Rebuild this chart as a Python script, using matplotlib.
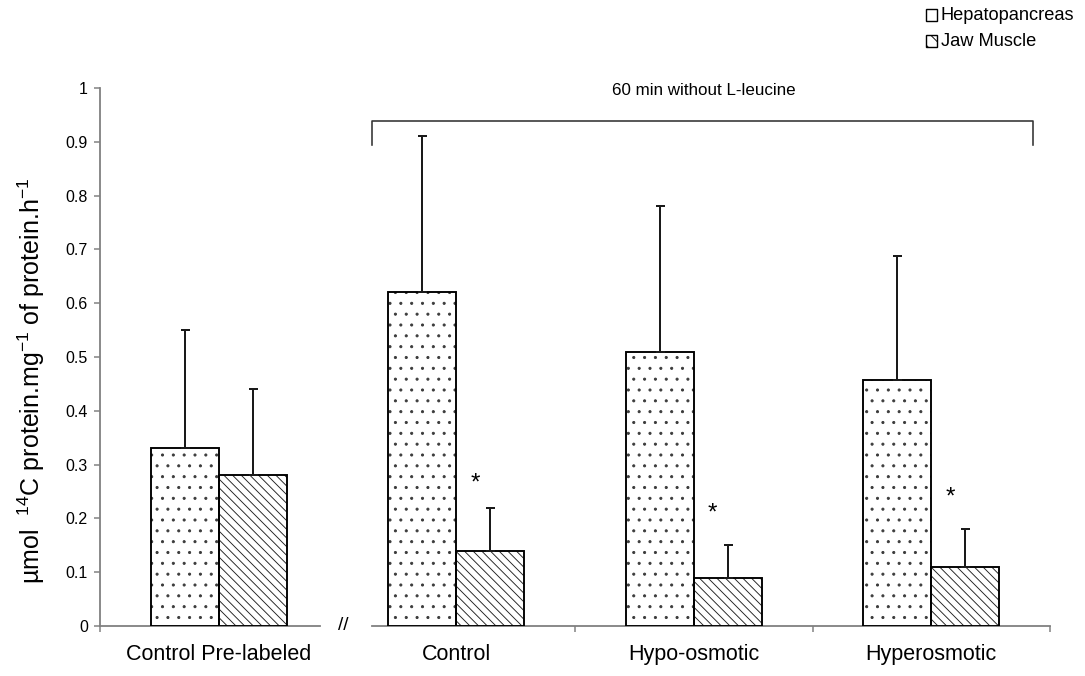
import matplotlib
matplotlib.use("Agg")
import matplotlib.pyplot as plt
from matplotlib.patches import Rectangle
import numpy as np

DPI = 130
W, H = 1085, 676


def pt(px):
    return px * 72.0 / DPI


plt.rcParams['font.family'] = ['Liberation Sans', 'DejaVu Sans']
plt.rcParams['mathtext.fontset'] = 'custom'
plt.rcParams['mathtext.rm'] = 'Liberation Sans'
plt.rcParams['mathtext.it'] = 'Liberation Sans'
plt.rcParams['hatch.linewidth'] = pt(0.9)

# ---- data ----
categories = ['Control Pre-labeled', 'Control', 'Hypo-osmotic', 'Hyperosmotic']
hepato = [0.33, 0.62, 0.51, 0.457]
hepato_sd = [0.22, 0.29, 0.27, 0.23]
jaw = [0.28, 0.14, 0.09, 0.11]
jaw_sd = [0.16, 0.08, 0.06, 0.07]
star_y = [None, 0.277, 0.221, 0.251]
series_names = ['Hepatopancreas', 'Jaw Muscle']
yticks = [0, 0.1, 0.2, 0.3, 0.4, 0.5, 0.6, 0.7, 0.8, 0.9, 1]
ytick_labels = ['0', '0.1', '0.2', '0.3', '0.4', '0.5', '0.6', '0.7', '0.8', '0.9', '1']
bracket_text = '60 min without L-leucine'

fig = plt.figure(figsize=(W / DPI, H / DPI), dpi=DPI)
ax = fig.add_axes([100 / W, 1 - 626 / H, 950 / W, 538 / H])

x = np.arange(len(categories))
bw = 0.286
edge_lw = pt(1.9)
DOTS = '..'
LINES = '\\' * 5

# hatch layers (hatch colour follows edge colour), then black outlines on top
ax.bar(x - bw / 2, hepato, bw, color='white', edgecolor='#3a3a3a',
       linewidth=0, hatch=DOTS, zorder=2)
ax.bar(x + bw / 2, jaw, bw, color='white', edgecolor='#202020',
       linewidth=0, hatch=LINES, zorder=2)
ax.bar(x - bw / 2, hepato, bw, fill=False, edgecolor='black',
       linewidth=edge_lw, zorder=2.5)
ax.bar(x + bw / 2, jaw, bw, fill=False, edgecolor='black',
       linewidth=edge_lw, zorder=2.5)

zeros = np.zeros(len(x))
ax.errorbar(x - bw / 2, hepato, yerr=[zeros, hepato_sd], fmt='none',
            ecolor='#1a1a1a', elinewidth=pt(2), capsize=pt(4.5),
            capthick=pt(2), zorder=3)
ax.errorbar(x + bw / 2, jaw, yerr=[zeros, jaw_sd], fmt='none',
            ecolor='#1a1a1a', elinewidth=pt(2), capsize=pt(4.5),
            capthick=pt(2), zorder=3)

for i, sy in enumerate(star_y):
    if sy is not None:
        ax.text(x[i] + bw / 2 - 0.065, sy - 0.023, '*', ha='center',
                va='baseline', fontsize=pt(24), color='black')

ax.set_xlim(-0.5, 3.5)
ax.set_ylim(0, 1)
ax.set_yticks(yticks)
ax.set_yticklabels(ytick_labels, fontsize=pt(16))

ax.set_xticks(x)
ax.set_xticklabels(categories, fontsize=pt(21.5))
ax.tick_params(axis='x', which='major', length=0, pad=pt(18))
ax.set_xticks([-0.5, 1.5, 2.5, 3.5], minor=True)
ax.tick_params(axis='x', which='minor', length=pt(6), width=pt(1.5),
               color='#808080', direction='out')
ax.tick_params(axis='y', length=pt(6), width=pt(1.5), color='#808080',
               direction='out', pad=pt(6))

for s in ['top', 'right', 'bottom']:
    ax.spines[s].set_visible(False)
ax.spines['left'].set_color('#808080')
ax.spines['left'].set_linewidth(pt(1.8))

# broken x axis
ax.plot([-0.5, 0.426], [0, 0], color='#808080', lw=pt(1.8), clip_on=False, zorder=1)
ax.plot([0.645, 3.5], [0, 0], color='#808080', lw=pt(1.8), clip_on=False, zorder=1)
ax.text(0.523, 0, '//', ha='center', va='center', fontsize=pt(19),
        color='black', clip_on=False)

# bracket
ax.plot([0.645, 0.645, 3.428, 3.428], [0.894, 0.939, 0.939, 0.894],
        color='#333333', lw=pt(1.6), clip_on=False)
ax.text(2.041, 0.996, bracket_text, ha='center', va='center',
        fontsize=pt(17), clip_on=False)

# y label
fig.text(31 / W, 1 - 381 / H,
         r'µmol  $^{14}$C protein.mg$^{-1}$ of protein.h$^{-1}$',
         rotation=90, ha='center', va='center', fontsize=pt(25))

# legend
leg_hatches = ['', '\\' * 3]
leg_y = [15, 41]
for name, hch, yy in zip(series_names, leg_hatches, leg_y):
    r = Rectangle((926 / W, 1 - (yy + 5.5) / H), 11 / W, 11 / H,
                  transform=fig.transFigure, facecolor='white',
                  edgecolor='black', linewidth=pt(1.4), hatch=hch)
    fig.add_artist(r)
    fig.text(941 / W, 1 - yy / H, name, ha='left', va='center',
             fontsize=pt(18.2))

fig.savefig('out.png', dpi=DPI)
